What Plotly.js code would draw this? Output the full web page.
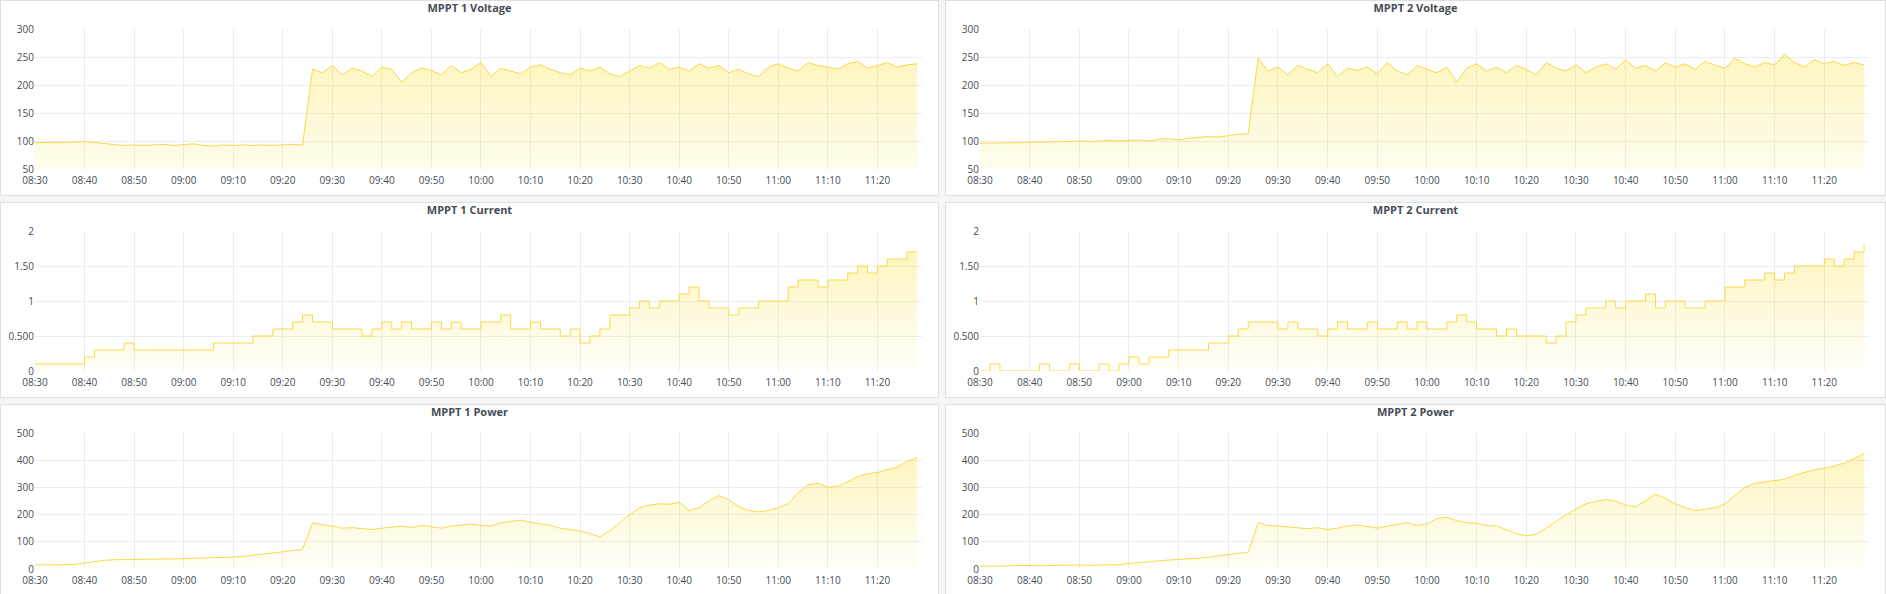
<!DOCTYPE html>
<html>
<head>
<meta charset="utf-8">
<script src="https://cdn.plot.ly/plotly-3.0.1.min.js"></script>
<style>
  body { margin: 0; background: #f4f5f5; width: 1886px; height: 594px; overflow: hidden; font-family: "Open Sans", Arial, sans-serif; }
  .panel { position: absolute; background: #fff; border: 1px solid #dcdee1; box-sizing: border-box; }
</style>
</head>
<body>
<div id="p1" class="panel" style="left:0;top:0;width:939px;height:196px"></div>
<div id="p2" class="panel" style="left:945px;top:0;width:941px;height:196px"></div>
<div id="p3" class="panel" style="left:0;top:202px;width:939px;height:196px"></div>
<div id="p4" class="panel" style="left:945px;top:202px;width:941px;height:196px"></div>
<div id="p5" class="panel" style="left:0;top:404px;width:939px;height:192px"></div>
<div id="p6" class="panel" style="left:945px;top:404px;width:941px;height:192px"></div>
<script>
// samples every 2 minutes from 08:30 to 11:28
const tempos = [];
for (let i = 0; i < 90; i++) {
  const t = new Date(2024, 4, 1, 8, 30 + 2 * i);
  const hh = String(t.getHours()).padStart(2, "0");
  const mm = String(t.getMinutes()).padStart(2, "0");
  tempos.push(`2024-05-01 ${hh}:${mm}`);
}

const tensao1 = [97,97,97,97,98,99,97,96,93,92,93,92,93,94,92,93,95,92,91,93,92,93,92,93,92,93,94,93,
  228,222,235,218,230,225,215,232,228,205,222,230,226,218,235,222,228,240,215,230,
  225,220,232,236,228,222,218,230,225,232,220,215,225,235,230,240,228,232,225,238,
  230,235,222,228,220,215,232,238,230,225,240,235,232,228,238,242,230,235,240,232,236,238];
const tensao2 = [96,96,97,97,97,98,98,99,99,99,100,99,100,101,100,101,102,100,103,104,102,105,106,108,107,110,112,113,
  248,225,232,218,235,228,222,238,215,230,226,232,220,240,225,218,235,228,222,232,
  205,230,238,225,232,222,235,228,218,240,230,225,236,222,232,238,228,245,230,235,
  225,240,232,238,228,242,235,230,248,238,232,240,236,255,240,232,245,238,242,235,240,236];
const corrente1 = [0.1,0.1,0.1,0.1,0.1,0.2,0.3,0.3,0.3,0.4,0.3,0.3,0.3,0.3,0.3,0.3,0.3,0.3,0.4,0.4,0.4,0.4,0.5,0.5,0.6,0.6,0.7,0.8,
  0.7,0.7,0.6,0.6,0.6,0.5,0.6,0.7,0.6,0.7,0.6,0.6,0.7,0.6,0.7,0.6,
  0.6,0.7,0.7,0.8,0.6,0.6,0.7,0.6,0.6,0.5,0.6,
  0.4,0.5,0.6,0.8,0.8,0.9,1.0,0.9,1.0,1.0,1.1,1.2,1.0,0.9,0.9,0.8,0.9,0.9,1.0,1.0,
  1.0,1.2,1.3,1.3,1.2,1.3,1.3,1.4,1.5,1.4,1.5,1.6,1.6,1.7,1.7];
const corrente2 = [0,0.1,0,0,0,0,0.1,0,0,0.1,0,0,0.1,0,0.1,
  0.2,0.1,0.2,0.2,0.3,0.3,0.3,0.3,0.4,0.4,0.5,0.6,0.7,
  0.7,0.7,0.6,0.7,0.6,0.6,0.5,0.6,0.7,0.6,0.6,0.7,0.6,0.6,0.7,0.6,0.7,0.6,0.6,0.7,0.8,0.7,0.6,0.6,0.5,0.6,0.5,
  0.5,0.5,0.4,0.5,0.7,0.8,0.9,0.9,1.0,0.9,1.0,1.0,1.1,0.9,1.0,1.0,0.9,0.9,1.0,1.0,
  1.2,1.2,1.3,1.3,1.4,1.3,1.4,1.5,1.5,1.5,1.6,1.5,1.6,1.7,1.8];
const potencia1 = [15,15,15,15,16,22,28,32,34,35,35,36,36,37,37,38,38,39,40,42,44,46,50,54,58,62,66,72,
  170,162,158,150,152,148,145,150,155,158,152,160,155,150,158,162,165,160,158,170,
  175,180,172,165,160,150,145,140,130,118,140,170,200,225,235,240,238,245,215,225,
  250,270,255,230,215,210,215,225,240,280,310,315,300,305,320,340,350,355,365,375,395,410];
const potencia2 = [10,11,11,12,12,13,12,13,14,13,15,14,14,15,16,20,24,28,30,33,35,38,40,44,48,52,56,62,
  170,160,158,155,150,148,152,145,150,158,162,155,150,158,165,170,160,165,185,190,
  178,170,168,160,158,145,130,122,128,150,175,200,220,240,248,255,250,235,228,250,
  275,260,240,225,215,220,225,240,270,300,315,320,325,330,345,355,365,370,378,390,405,425];

const amarelo = "#F9D949";
const corTexto = "#464c54";

const serie = (y, degrau) => ({
  x: tempos,
  y: y,
  type: "scatter",
  mode: "lines",
  line: { color: amarelo, width: 1, shape: degrau ? "hv" : "linear" },
  fill: "tozeroy",
  fillgradient: {
    type: "vertical",
    colorscale: [[0, "rgba(250,222,42,0.03)"], [1, "rgba(250,222,42,0.30)"]],
  },
});

const montarLayout = (titulo, eixoY) => ({
  title: {
    text: `<b>${titulo}</b>`,
    font: { family: "Open Sans, Arial, sans-serif", size: 11, color: corTexto },
    x: 0.5, xanchor: "center", y: 0.985, yanchor: "top",
  },
  showlegend: false,
  paper_bgcolor: "#fff",
  plot_bgcolor: "#fff",
  margin: { t: 28, l: 34, r: 16, b: 26 },
  xaxis: {
    type: "date",
    range: ["2024-05-01 08:30", "2024-05-01 11:29"],
    dtick: 600000,
    tick0: "2024-05-01 08:30",
    tickformat: "%H:%M",
    showgrid: true,
    gridcolor: "#ececec",
    zeroline: false,
    ticks: "",
    ticklabelstandoff: 4,
    tickfont: { size: 10, color: corTexto },
  },
  yaxis: Object.assign({
    showgrid: true,
    gridcolor: "#ececec",
    zeroline: false,
    showline: false,
    ticks: "",
    tickfont: { size: 10, color: corTexto },
  }, eixoY),
});

const eixoTensao = { range: [50, 300], tickvals: [50, 100, 150, 200, 250, 300] };
const eixoCorrente = { range: [0, 2], tickvals: [0, 0.5, 1, 1.5, 2], ticktext: ["0", "0.500", "1", "1.50", "2"] };
const eixoPotencia = { range: [0, 500], tickvals: [0, 100, 200, 300, 400, 500] };

const config = { displayModeBar: false, staticPlot: true };

const paineis = [
  ["p1", "MPPT 1 Voltage", tensao1, eixoTensao, false],
  ["p2", "MPPT 2 Voltage", tensao2, eixoTensao, false],
  ["p3", "MPPT 1 Current", corrente1, eixoCorrente, true],
  ["p4", "MPPT 2 Current", corrente2, eixoCorrente, true],
  ["p5", "MPPT 1 Power", potencia1, eixoPotencia, false],
  ["p6", "MPPT 2 Power", potencia2, eixoPotencia, false],
];

paineis.forEach(([id, titulo, y, eixo, degrau]) => {
  const el = document.getElementById(id);
  const layout = montarLayout(titulo, eixo);
  layout.width = el.clientWidth;
  layout.height = el.clientHeight;
  Plotly.newPlot(id, [serie(y, degrau)], layout, config);
});
</script>
</body>
</html>
